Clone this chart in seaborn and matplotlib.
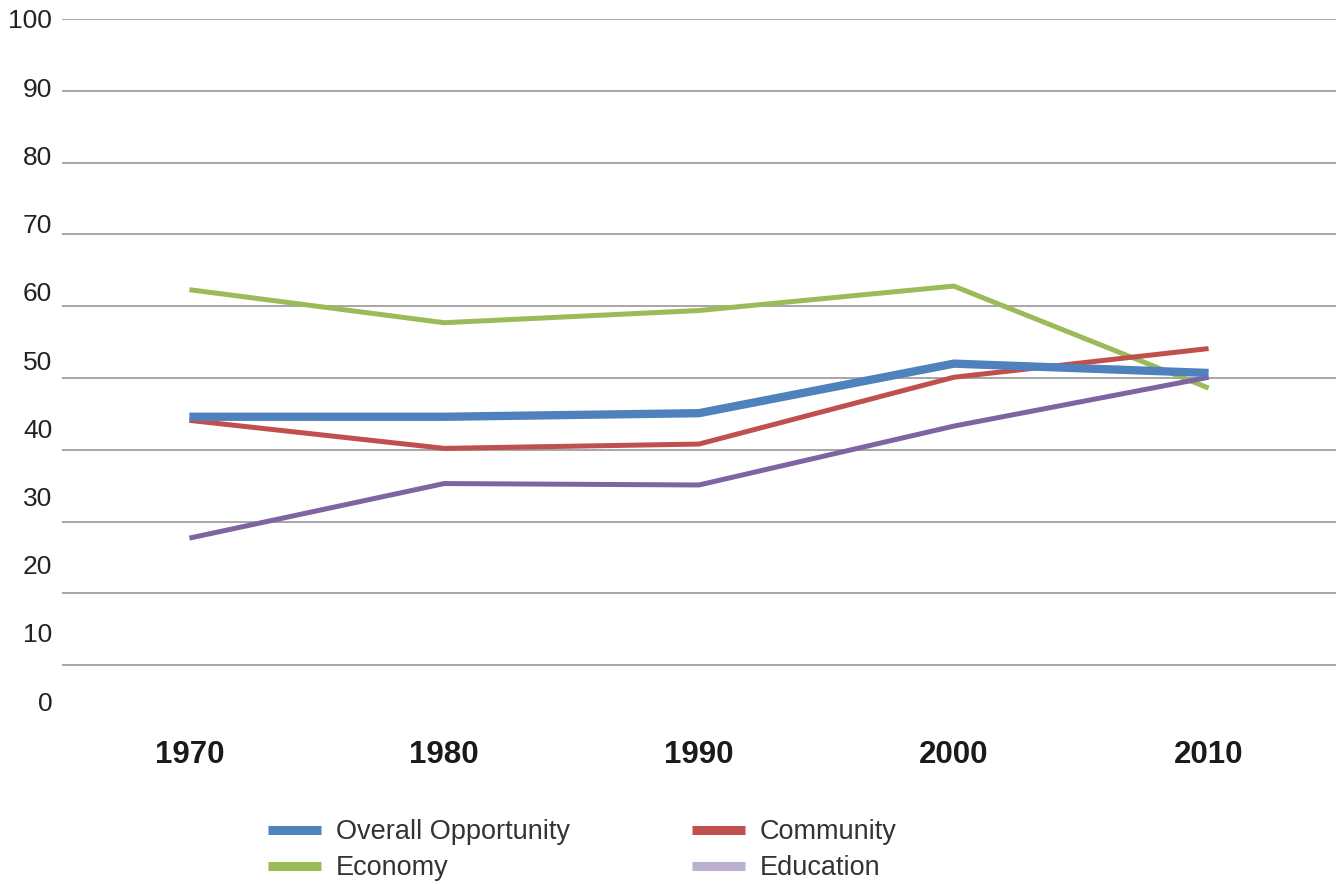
import matplotlib
matplotlib.use("Agg")
import matplotlib.pyplot as plt
import seaborn as sns
import pandas as pd
from matplotlib.lines import Line2D

years = [1970, 1980, 1990, 2000, 2010]
overall = [44.6, 44.6, 45.1, 52.0, 50.7]
community = [44.1, 40.2, 40.8, 50.1, 54.1]
economy = [62.3, 57.7, 59.4, 62.8, 48.6]
education = [27.7, 35.3, 35.1, 43.3, 50.1]
series_names = ["Overall Opportunity", "Community", "Economy", "Education"]
y_ticks = [0, 10, 20, 30, 40, 50, 60, 70, 80, 90, 100]

colors = {"Overall Opportunity": "#4F81BD", "Community": "#C0504D",
          "Economy": "#9BBB59", "Education": "#8064A2"}
legend_colors = {"Overall Opportunity": "#4F81BD", "Community": "#C0504D",
                 "Economy": "#9BBB59", "Education": "#BBB0D2"}
widths = {"Overall Opportunity": 6.0, "Community": 3.6, "Economy": 3.6, "Education": 3.6}

df = pd.DataFrame({
    "year": years * 4,
    "value": overall + community + economy + education,
    "series": sum([[n] * len(years) for n in series_names], []),
})

sns.set_theme(style="white")
plt.rcParams["font.family"] = ["Liberation Sans", "DejaVu Sans"]

fig = plt.figure(figsize=(13.41, 8.84), dpi=100)
ax = fig.add_axes([62 / 1341, 1 - 737 / 884, (1336 - 62) / 1341, (737 - 19) / 884])

draw_order = ["Economy", "Community", "Education", "Overall Opportunity"]
for name in draw_order:
    sub = df[df["series"] == name]
    sns.lineplot(data=sub, x="year", y="value", ax=ax, color=colors[name],
                 linewidth=widths[name], solid_capstyle="butt", legend=False,
                 zorder=3 if name == "Overall Opportunity" else 2)

ax.set_xlim(1965, 2015)
ax.set_xticks(years)
ax.set_xticklabels([str(y) for y in years], fontsize=22.5, fontweight="bold", color="#1a1a1a")
ax.set_xlabel("")
ax.set_ylabel("")
for s in ax.spines.values():
    s.set_visible(False)

# y tick labels (offset scale as in original)
ax2 = ax.twinx()
ax2.set_ylim(-5.26, 100)
ax2.set_yticks(y_ticks)
ax2.set_yticklabels([str(t) for t in y_ticks], fontsize=19, color="#222222")
ax2.yaxis.tick_left()
ax2.tick_params(axis="y", left=False, right=False, length=0, labelright=False, labelleft=True, pad=7)
ax2.grid(False)
for s in ax2.spines.values():
    s.set_visible(False)

# gridlines on main axis
ax.set_ylim(0, 100)
ax.set_yticks(y_ticks[1:])
ax.yaxis.grid(True, color="#a6a6a6", linewidth=1.4)
ax.set_axisbelow(True)
ax.tick_params(axis="y", left=False, right=False, length=0, labelleft=False, labelright=False)
ax.tick_params(axis="x", bottom=False, length=0, pad=2.5)

leg_order = ["Overall Opportunity", "Economy", "Community", "Education"]
handles = [Line2D([0], [0], color=legend_colors[n], linewidth=6.5, solid_capstyle="butt") for n in leg_order]
leg = fig.legend(handles, leg_order, loc="upper left", bbox_to_anchor=(268 / 1341, 1 - 819 / 884),
                 ncol=2, frameon=False, fontsize=19.5, borderpad=0, borderaxespad=0,
                 handlelength=1.95, handletextpad=0.55, columnspacing=4.52, labelspacing=0.38)
for t in leg.get_texts():
    t.set_color("#333333")

fig.savefig("out.png", dpi=100)
